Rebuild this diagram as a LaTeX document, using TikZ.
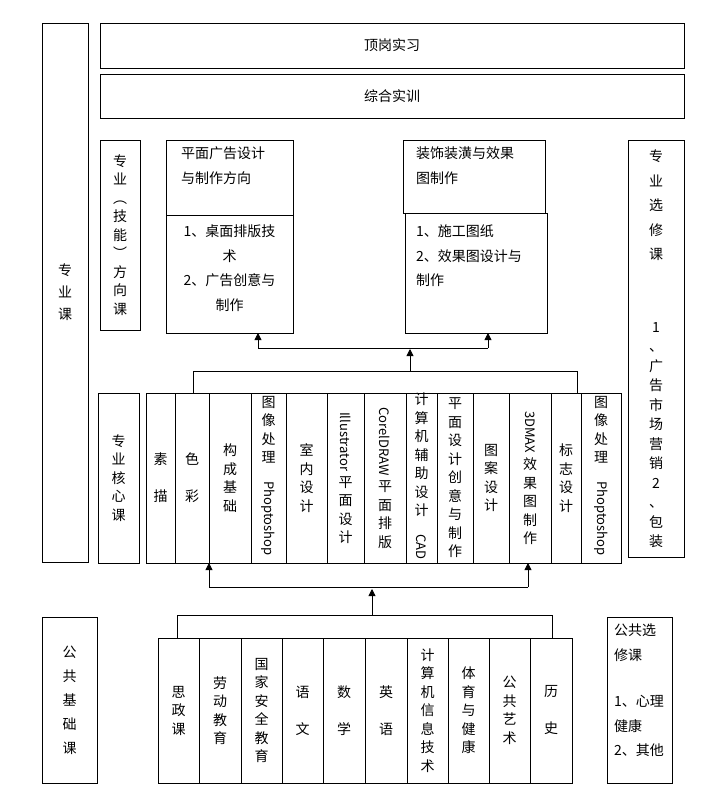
\documentclass[tikz,border=0pt]{standalone}
\usepackage{fontspec}
\setmainfont{Noto Sans CJK SC}
\usetikzlibrary{fit,arrows.meta}
\newcommand\bx[6]{\node[boxst, fit={(#2,#3) (#4,#5)}] (#1) {};\node[txt] (#1t) at (#1.center) {#6};}
\newcommand\rb[1]{\rotatebox{-90}{\fontsize{13}{13}\selectfont #1\hspace{4pt}}}
\begin{document}
\begin{tikzpicture}[x=1pt,y=-1pt,
  boxst/.style={draw, line width=0.8pt, inner sep=0pt},
  txt/.style={align=center, inner sep=0pt, font=\fontsize{14}{18.5}\selectfont},
  tl/.style={align=left, inner sep=0pt, anchor=north west, font=\fontsize{14}{24.5}\selectfont},
  ln/.style={line width=0.8pt},
  ar/.style={line width=0.8pt, -{Triangle[length=7pt,width=7pt]}}]
\useasboundingbox (0,0) rectangle (723,801);
% left big boxes
\node[boxst, fit={(42,23) (88,562)}] (zyk) {};
\node[txt, font=\fontsize{14}{22}\selectfont] (zykt) at (zyk.center) {专\\业\\课};
\node[boxst, fit={(42,617) (97,783)}] (ggjc) {};
\node[txt, font=\fontsize{14}{24}\selectfont] (ggjct) at (ggjc.center) {公\\共\\基\\础\\课};
% top bars
\bx{dg}{100}{23}{684}{68}{顶岗实习}
\bx{zh}{100}{74}{684}{118}{综合实训}
% direction
\node[boxst, fit={(100,140) (140,330)}] (fx) {};
\node[txt] (fxt) at (fx.center) {专\\业\\︵\\技\\能\\︶\\方\\向\\课};
\node[boxst, fit={(166,140) (293,215)}] (pm1) {};
\node[tl] (pm1t) at (181,147) {平面广告设计\\与制作方向};
\node[boxst, fit={(166,215) (293,333)}] (pm2) {};
\node[txt, anchor=north, font=\fontsize{14}{24.5}\selectfont] (pm2t) at (229.5,225) {1、桌面排版技\\术\\2、广告创意与\\制作};
\node[boxst, fit={(403,140) (545,213)}] (zs1) {};
\node[tl] (zs1t) at (416,147) {装饰装潢与效果\\图制作};
\node[boxst, fit={(405,213) (547,333)}] (zs2) {};
\node[tl] (zs2t) at (416,225) {1、施工图纸\\2、效果图设计与\\制作};
% right elective
\node[boxst, fit={(628,140) (684,557)}] (zx) {};
\node[txt, anchor=north, font=\fontsize{14}{24.5}\selectfont] (zxt1) at (656,150) {专\\业\\选\\修\\课};
\node[txt, anchor=north, font=\fontsize{14}{19.5}\selectfont] (zxt2) at (656,322) {1\\、\\广\\告\\市\\场\\营\\销\\2\\、\\包\\装};
% core
\bx{hx}{98}{393}{139}{563}{专\\业\\核\\心\\课}
\bx{c1}{146}{393}{175}{563}{素\\\\描}
\bx{c2}{175}{393}{209}{563}{色\\\\彩}
\bx{c3}{209}{393}{251}{563}{构\\成\\基\\础}
\bx{c4}{251}{393}{286}{563}{图\\像\\处\\理\\\rb{Phoptoshop}}
\bx{c5}{286}{393}{327}{563}{室\\内\\设\\计}
\bx{c6}{327}{393}{364}{563}{\rb{Illustrator}\\平\\面\\设\\计}
\bx{c7}{364}{393}{406}{563}{\rb{CorelDRAW}\\平\\面\\排\\版}
\bx{c8}{406}{393}{437}{563}{计\\算\\机\\辅\\助\\设\\计\\\rb{CAD}}
\bx{c9}{437}{393}{473}{563}{平\\面\\设\\计\\创\\意\\与\\制\\作}
\bx{c10}{473}{393}{509}{563}{图\\案\\设\\计}
\bx{c11}{509}{393}{551}{563}{\rb{3DMAX}\\效\\果\\图\\制\\作}
\bx{c12}{551}{393}{581}{563}{标\\志\\设\\计}
\bx{c13}{581}{393}{621}{563}{图\\像\\处\\理\\\rb{Phoptoshop}}
% public base
\bx{b1}{158}{638}{199}{783}{思\\政\\课}
\bx{b2}{199}{638}{241}{783}{劳\\动\\教\\育}
\bx{b3}{241}{638}{282}{783}{国\\家\\安\\全\\教\\育}
\bx{b4}{282}{638}{323}{783}{语\\\\文}
\bx{b5}{323}{638}{365}{783}{数\\\\学}
\bx{b6}{365}{638}{407}{783}{英\\\\语}
\bx{b7}{407}{638}{448}{783}{计\\算\\机\\信\\息\\技\\术}
\bx{b8}{448}{638}{489}{783}{体\\育\\与\\健\\康}
\bx{b9}{489}{638}{530}{783}{公\\共\\艺\\术}
\bx{b10}{530}{638}{572}{783}{历\\\\史}
\node[boxst, fit={(607,617) (672,783)}] (gx) {};
\node[tl] (gxt) at (614,624) {公共选\\修课\\[22pt]1、心理\\健康\\2、其他};
% connectors
\coordinate (u1) at (193,371); \coordinate (u2) at (577,371);
\coordinate (u3) at (410,349); \coordinate (u4) at (258,348); \coordinate (u5) at (488,348);
\draw[ln] (193,393) -- (u1) -- (u2) -- (577,393);
\draw[ar] (410,371) -- (u3);
\draw[ln] (u4) -- (u5);
\draw[ar] (u4) -- (258,333);
\draw[ar] (u5) -- (488,333);
\coordinate (m1) at (209,587); \coordinate (m2) at (528,587);
\draw[ln] (m1) -- (m2);
\draw[ar] (m1) -- (209,563);
\draw[ar] (m2) -- (528,563);
\draw[ar] (372,615) -- (372,589);
\coordinate (l1) at (177,615); \coordinate (l2) at (552,615);
\draw[ln] (177,638) -- (l1) -- (l2) -- (552,638);
\end{tikzpicture}
\end{document}
